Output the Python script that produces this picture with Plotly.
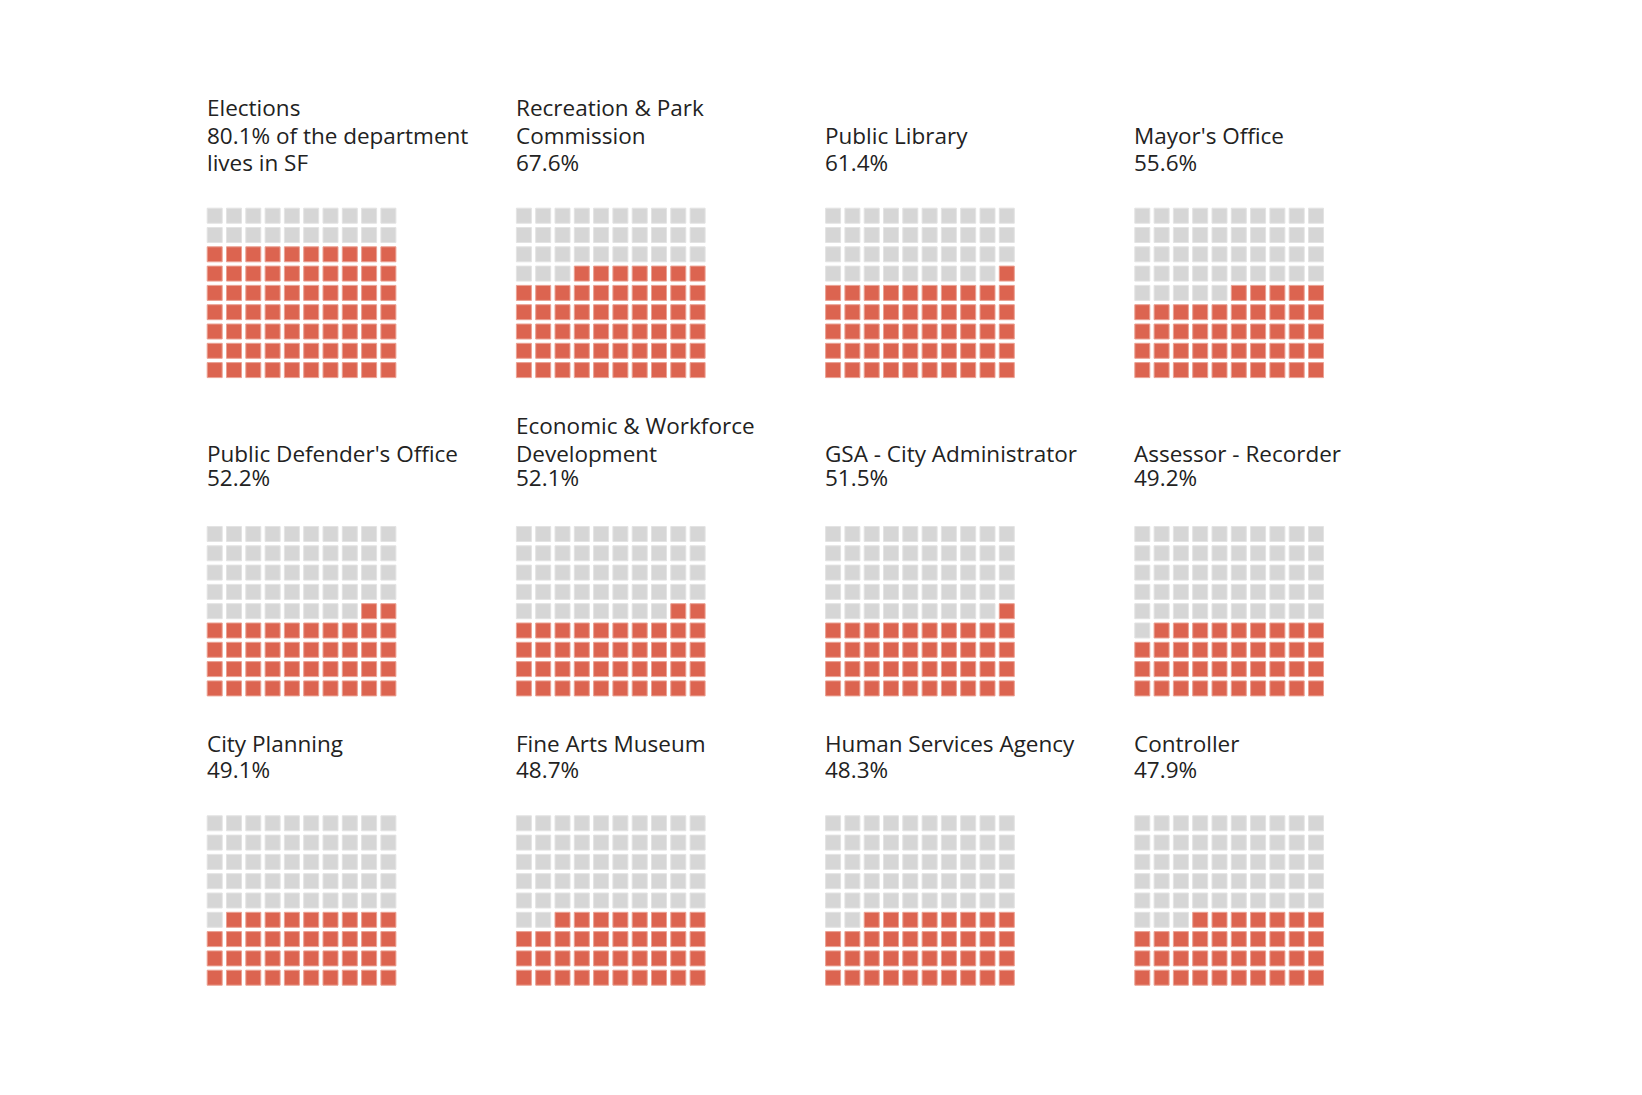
import math
import plotly.graph_objects as go

W, H = 1642, 1095

departments = ["Elections", "Recreation & Park<br>Commission", "Public Library", "Mayor's Office",
               "Public Defender's Office", "Economic & Workforce<br>Development",
               "GSA - City Administrator", "Assessor - Recorder",
               "City Planning", "Fine Arts Museum", "Human Services Agency", "Controller"]
pct_live_sf = [80.1, 67.6, 61.4, 55.6, 52.2, 52.1, 51.5, 49.2, 49.1, 48.7, 48.3, 47.9]
pct_labels = ["80.1% of the department<br>lives in SF", "67.6%", "61.4%", "55.6%",
              "52.2%", "52.1%", "51.5%", "49.2%", "49.1%", "48.7%", "48.3%", "47.9%"]

RED = "#dc6450"
RED_EDGE = "#eba193"
GREY = "#d6d6d6"
GREY_EDGE = "#e3e3e3"
TXT = "#222222"
FONT = "Open Sans"
FS = 22.5
LINE = 27.5

col_left = [206.7, 515.9, 825.1, 1134.3]
row_top = [207.7, 526.0, 815.3]
pitch = 19.3
pct_base = [171.0, 486.0, 778.0]
title_gap = [27.5, 24.5, 26.0]
D = 9.1  # distance from text baseline to annotation box bottom

fig = go.Figure()
annotations = []


def add_lines(text, last_baseline, x_px):
    lines = text.split("<br>")
    for j, ln in enumerate(lines):
        b = last_baseline - (len(lines) - 1 - j) * LINE
        annotations.append(dict(text=ln, xref="paper", yref="paper", x=x_px / W,
                                y=1 - (b + D) / H, xanchor="left", yanchor="bottom",
                                align="left", showarrow=False,
                                font=dict(family=FONT, size=FS, color=TXT)))
    return last_baseline - (len(lines) - 1) * LINE


for k, (name, p, lab) in enumerate(zip(departments, pct_live_sf, pct_labels)):
    r_i, c_i = divmod(k, 4)
    n = math.floor(p)
    xs_r, ys_r, xs_g, ys_g = [], [], [], []
    for row in range(10):          # row 9 = top, row 0 = bottom (cropped out of view)
        for col in range(10):
            idx = (9 - row) * 10 + col
            if idx >= 100 - n:
                xs_r.append(col); ys_r.append(row)
            else:
                xs_g.append(col); ys_g.append(row)
    ax = "" if k == 0 else str(k + 1)
    for xs, ys, c, e in [(xs_g, ys_g, GREY, GREY_EDGE), (xs_r, ys_r, RED, RED_EDGE)]:
        fig.add_trace(go.Scatter(
            x=xs, y=ys, mode="markers", xaxis="x" + ax, yaxis="y" + ax,
            marker=dict(symbol="square", size=15, color=c, line=dict(color=e, width=1)),
            hoverinfo="skip", showlegend=False))
    x0 = col_left[c_i] - (pitch - 16) / 2
    x1 = x0 + 10 * pitch
    ytop = row_top[r_i] - (pitch - 16) / 2
    ybot = ytop + 9 * pitch
    fig.layout["xaxis" + ax] = dict(domain=[x0 / W, x1 / W], range=[-0.5, 9.5], visible=False,
                                    fixedrange=True, anchor="y" + ax)
    fig.layout["yaxis" + ax] = dict(domain=[1 - ybot / H, 1 - ytop / H], range=[0.5, 9.5],
                                    visible=False, fixedrange=True, anchor="x" + ax)
    tx = col_left[c_i] - 2.0
    first_pct = add_lines(lab, pct_base[r_i], tx)
    add_lines(name, first_pct - title_gap[r_i], tx)

fig.update_layout(width=W, height=H, margin=dict(l=0, r=0, t=0, b=0),
                  paper_bgcolor="white", plot_bgcolor="white", annotations=annotations)
fig.write_html("out.html", config={"displayModeBar": False},
               post_script="document.body.style.margin='0';")
